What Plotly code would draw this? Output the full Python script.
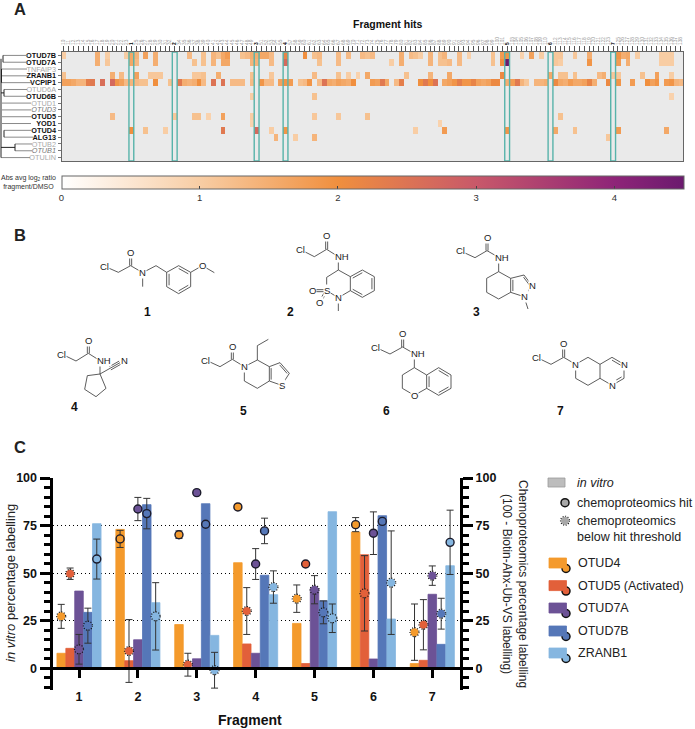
import plotly.graph_objects as go

W, H = 695, 729
FONT = "Liberation Sans"

# ---- panel A: fragment hit heatmap ----
ROWS = ["OTUD7B", "OTUD7A", "TNFAIP3", "ZRANB1", "VCPIP1", "OTUD6A", "OTUD6B", "OTUD1",
        "OTUD3", "OTUD5", "YOD1", "OTUD4", "ALG13", "OTUB2", "OTUB1", "OTULIN"]
ROW_BOLD = ["OTUD7B", "OTUD7A", "ZRANB1", "VCPIP1", "OTUD6B", "OTUD5", "YOD1", "OTUD4", "ALG13"]
ROW_ITALIC = ["OTUD3", "OTUB1"]
N_FRAGMENTS = 129
HIT_COLUMNS = [14, 23, 40, 46, 92, 101, 114]

HITS_OTUD7B = {0: 1.0, 7: 1.5, 9: 1.0, 13: 1.0, 14: 1.6, 15: 1.4, 17: 1.7, 19: 1.5, 26: 1.3, 29: 1.2,
               31: 1.4, 32: 1.2, 33: 1.6, 34: 1.8, 37: 1.2, 38: 1.3, 39: 1.5, 40: 1.5, 41: 1.6, 42: 1.6,
               43: 1.3, 46: 2.2, 50: 2.0, 52: 1.2, 53: 1.3, 57: 1.3, 59: 1.3, 62: 1.3, 63: 1.2, 64: 1.3,
               70: 1.5, 72: 1.3, 73: 1.2, 74: 1.0, 76: 1.4, 78: 1.2, 79: 1.4, 82: 1.3, 84: 0.9, 89: 1.2,
               91: 1.8, 92: 1.9, 95: 0.9, 97: 1.7, 99: 1.0, 102: 1.1, 103: 1.1, 106: 1.1, 109: 1.5,
               115: 1.9, 116: 1.5, 117: 1.6, 119: 1.0, 124: 1.0, 125: 1.0, 126: 1.0}
HITS_OTUD7A = {7: 1.5, 9: 1.1, 14: 1.6, 15: 1.3, 19: 1.5, 27: 1.2, 29: 1.2, 31: 1.4, 33: 1.6, 34: 1.6,
               39: 1.4, 40: 1.4, 43: 1.3, 46: 2.7, 53: 1.2, 57: 1.3, 68: 1.0, 70: 1.5, 76: 1.4, 78: 1.2,
               79: 1.2, 80: 1.3, 82: 1.3, 89: 1.2, 91: 2.0, 92: 4.5, 102: 1.1, 103: 1.0, 109: 1.9,
               115: 1.8, 117: 1.5, 124: 1.0, 125: 1.0, 126: 1.0}
HITS_ZRANB1 = {0: 1.2, 10: 1.5, 12: 1.3, 15: 1.7, 18: 1.1, 19: 1.1, 20: 1.1, 27: 1.1, 28: 1.1, 29: 1.2,
               32: 1.5, 39: 1.2, 43: 1.1, 52: 1.3, 57: 1.2, 59: 1.0, 61: 0.9, 63: 1.6, 71: 1.2, 76: 1.4,
               80: 1.6, 91: 2.1, 101: 1.6, 103: 1.2, 104: 1.2, 106: 1.2, 111: 1.3, 112: 1.5, 114: 1.1,
               115: 1.1, 120: 1.2, 123: 1.7, 126: 1.0}
HITS_VCPIP1 = {0: 1.7, 1: 1.7, 2: 1.6, 3: 1.4, 4: 1.4, 5: 2.3, 6: 2.4, 8: 2.6, 10: 2.7, 11: 1.9, 12: 1.7,
               13: 1.3, 14: 1.4, 15: 1.3, 16: 1.2, 17: 1.2, 19: 2.0, 22: 1.2, 24: 2.4, 25: 1.5, 26: 1.4,
               27: 1.5, 28: 2.0, 29: 1.3, 31: 2.5, 33: 2.5, 35: 1.3, 36: 1.3, 37: 1.3, 39: 1.3, 41: 1.9,
               42: 1.3, 43: 1.3, 45: 1.7, 46: 1.9, 47: 1.8, 49: 1.2, 50: 1.3, 51: 1.9, 53: 1.3, 54: 2.5,
               55: 1.6, 56: 1.5, 57: 1.7, 58: 1.6, 59: 1.5, 60: 2.0, 64: 1.8, 65: 1.7, 66: 2.4, 67: 1.6,
               69: 1.3, 70: 2.3, 74: 2.0, 75: 2.4, 76: 2.0, 77: 2.5, 79: 1.6, 80: 1.7, 81: 1.9, 82: 2.3,
               83: 1.9, 84: 1.9, 85: 2.2, 86: 1.7, 87: 1.6, 88: 1.7, 89: 2.1, 90: 2.1, 92: 1.5, 93: 1.8,
               94: 2.4, 95: 1.4, 96: 1.1, 98: 1.4, 99: 1.4, 100: 1.5, 102: 2.1, 103: 1.6, 104: 1.5,
               105: 1.8, 106: 1.6, 107: 1.6, 108: 1.7, 109: 2.2, 110: 1.5, 113: 2.1, 115: 1.9, 118: 1.8,
               121: 2.0, 122: 1.7, 123: 1.9, 125: 1.8, 126: 1.9, 127: 1.4, 128: 1.3}
HITS_OTUD6B = {39: 1.0, 52: 1.2, 126: 0.9}
HITS_OTUD5 = {10: 1.3, 23: 1.1, 27: 1.2, 28: 1.2, 30: 0.9, 33: 1.7, 39: 1.0, 52: 1.1, 57: 1.1, 63: 1.2, 103: 1.2}
HITS_YOD1 = {39: 0.9, 78: 0.9}
HITS_OTUD4 = {14: 2.0, 17: 1.2, 21: 1.0, 33: 2.4, 40: 2.7, 43: 1.0, 46: 1.9, 73: 1.0, 79: 1.8, 92: 1.9,
              102: 1.6, 106: 1.2, 115: 1.8, 125: 1.6}
HITS_ALG13 = {44: 1.4, 48: 1.0, 52: 1.4, 113: 1.1}

ROW_HITS = {"OTUD7B": HITS_OTUD7B, "OTUD7A": HITS_OTUD7A, "ZRANB1": HITS_ZRANB1, "VCPIP1": HITS_VCPIP1,
            "OTUD6B": HITS_OTUD6B, "OTUD5": HITS_OTUD5, "YOD1": HITS_YOD1, "OTUD4": HITS_OTUD4,
            "ALG13": HITS_ALG13}

HEAT_COLORS = [[0, "#FFFFFF"], [0.222, "#F8CDA4"], [0.444, "#F08F3E"], [0.667, "#C8586A"],
               [0.889, "#8E2478"], [1, "#6B1A6E"]]

# ---- panel C: bars and chemoproteomics points ----
FRAGMENTS = [1, 2, 3, 4, 5, 6, 7]
SERIES = ["OTUD4", "OTUD5 (Activated)", "OTUD7A", "OTUD7B", "ZRANB1"]
COLORS = ["#F49A2C", "#E2603A", "#6C5296", "#5577B8", "#85B6E0"]

VITRO_OTUD4 = [7.9, 73, 23, 55.5, 23.6, 71.6, 2.5]
VITRO_OTUD5 = [10.5, 4, 0.4, 12.8, 2.5, 59.7, 4.2]
VITRO_OTUD7A = [40.6, 15, 5, 7.9, 41.9, 4.9, 38.9]
VITRO_OTUD7B = [29.4, 86, 86.5, 48.9, 35.5, 80.2, 12.6]
VITRO_ZRANB1 = [76, 34.5, 17.3, 38.7, 82.3, 25.9, 53.9]

CHEMO_OTUD4 = [27.3, 68, 70.2, 84.8, 36.6, 75.5, 19]
CHEMO_OTUD5 = [49.7, 9.1, 1.9, 30.1, 54.8, 39.4, 22.9]
CHEMO_OTUD7A = [10, 83.7, 92.3, 54.8, 41.3, 71, 48.7]
CHEMO_OTUD7B = [22.4, 81.3, 75.7, 72.2, 29.4, 77.2, 28.7]
CHEMO_ZRANB1 = [57.4, 27.3, -1, 42.7, 26.3, 45, 66.2]

ERR_OTUD4 = [6.3, 4.5, 2, 0, 7.2, 3.7, 14.8]
ERR_OTUD5 = [3, 16.5, 6, 12.3, 0, 19.8, 13.2]
ERR_OTUD7A = [7.8, 6.1, 0, 8.1, 7.4, 11.2, 5.1]
ERR_OTUD7B = [9.2, 8, 0, 6.7, 6, 0, 8.1]
ERR_ZRANB1 = [10.5, 17.7, 9.4, 8.5, 7.5, 27.2, 16.9]

HIT_OTUD4 = [0, 1, 1, 1, 0, 1, 0]
HIT_OTUD5 = [0, 0, 0, 0, 1, 0, 0]
HIT_OTUD7A = [0, 1, 1, 1, 0, 1, 0]
HIT_OTUD7B = [0, 1, 1, 1, 0, 1, 0]
HIT_ZRANB1 = [1, 0, 0, 0, 0, 0, 1]

VITRO = [VITRO_OTUD4, VITRO_OTUD5, VITRO_OTUD7A, VITRO_OTUD7B, VITRO_ZRANB1]
CHEMO = [CHEMO_OTUD4, CHEMO_OTUD5, CHEMO_OTUD7A, CHEMO_OTUD7B, CHEMO_ZRANB1]
ERRS = [ERR_OTUD4, ERR_OTUD5, ERR_OTUD7A, ERR_OTUD7B, ERR_ZRANB1]
HITS = [HIT_OTUD4, HIT_OTUD5, HIT_OTUD7A, HIT_OTUD7B, HIT_ZRANB1]

# page pixels of the main boxes
HEAT_L, HEAT_R, HEAT_T, HEAT_B = 61.5, 683, 52, 161
BAR_L, BAR_R, BAR_T, BAR_B = 52.5, 460, 478, 690.2
ZERO_PX = 668.3
GROUP_STEP = 0.151


def px_x(p):
    return p / W


def px_y(p):
    return 1 - p / H


fig = go.Figure()

# heatmap
z = []
for name in ROWS:
    row = ROW_HITS.get(name, {})
    z.append([row.get(c) for c in range(N_FRAGMENTS)])

fig.add_trace(go.Heatmap(
    z=z, x=list(range(N_FRAGMENTS)), y=list(range(len(ROWS))),
    zmin=0, zmax=4.5, colorscale=HEAT_COLORS, hoverongaps=False,
    colorbar=dict(orientation="h", x=px_x(HEAT_L), xanchor="left", y=px_y(176), yanchor="top",
                  lenmode="pixels", len=HEAT_R - HEAT_L, thickness=13, thicknessmode="pixels",
                  xpad=0, ypad=0, outlinecolor="#666", outlinewidth=1,
                  tickvals=[0, 1, 2, 3, 4], ticks="inside", ticklen=3, tickcolor="#444",
                  tickfont=dict(family=FONT, size=9.5, color="#333")),
    xaxis="x", yaxis="y",
))

# bars, left axis
for i, name in enumerate(SERIES):
    fig.add_trace(go.Bar(
        x=FRAGMENTS, y=VITRO[i], name=name, marker=dict(color=COLORS[i], line=dict(color=COLORS[i], width=0.8)),
        xaxis="x2", yaxis="y2", showlegend=False,
    ))

# chemoproteomics points, right axis
point_shapes = []
for i, name in enumerate(SERIES):
    xs = [f + (i - 2) * GROUP_STEP for f in FRAGMENTS]
    fig.add_trace(go.Scatter(
        x=xs, y=CHEMO[i], mode="markers", showlegend=False, xaxis="x2", yaxis="y3",
        error_y=dict(type="data", array=ERRS[i], color="#333", thickness=1, width=3.5),
        marker=dict(size=8, color=COLORS[i],
                    line=dict(color="#1c1c2c", width=[1.4 if h else 0 for h in HITS[i]])),
    ))
    for x, y, h in zip(xs, CHEMO[i], HITS[i]):
        if not h:
            point_shapes.append(dict(
                type="circle", xref="x2", yref="y3", xsizemode="pixel", ysizemode="pixel",
                xanchor=x, yanchor=y, x0=-4.5, x1=4.5, y0=-4.5, y1=4.5,
                line=dict(color="#111", width=1.2, dash="1px,1.6px"), layer="above",
            ))

# ---- full page pixel overlay: dendrogram, molecules, legend ----
# dendrogram stems: (row, x start, x end)
row_y = lambda r: HEAT_T + (HEAT_B - HEAT_T) * (r + 0.5) / len(ROWS)
LEAF_STEMS = [(0, 3, 27), (1, 3, 27), (2, 1.5, 27), (3, 1.5, 28), (4, 1.5, 31), (5, 4, 27), (6, 4, 27),
              (7, 2, 31), (8, 2, 31), (9, 2, 31), (10, 2, 31), (11, 4, 31), (12, 4, 33),
              (13, 15, 32), (14, 15, 32), (15, 1, 30)]
JOINS = [(0, 1, 3), (2, 4, 1.5), (5, 6, 4), (11, 12, 4), (13, 14, 15), (0.5, 15, 1)]
stem_x, stem_y = [], []
for r, x0, x1 in LEAF_STEMS:
    stem_x += [x0, x1, None]
    stem_y += [row_y(r), row_y(r), None]
join_x, join_y = [], []
for a, b, x in JOINS:
    join_x += [x, x, None]
    join_y += [row_y(a), row_y(b), None]
join_x += [4, 1, None, 15, 1, None]
join_y += [row_y(5.5), row_y(5.5), None, row_y(13.5), row_y(13.5), None]
fig.add_trace(go.Scatter(x=stem_x, y=stem_y, mode="lines", line=dict(color="#8a8a8a", width=1),
                         xaxis="x4", yaxis="y4", showlegend=False))
fig.add_trace(go.Scatter(x=join_x, y=join_y, mode="lines", line=dict(color="#222", width=1),
                         xaxis="x4", yaxis="y4", showlegend=False))

# molecules, traced in 3x crop coordinates with an origin offset
MOLECULES = [
    dict(o=(0, 200),
         single=[[(355, 217), (392, 197), (428, 218), (468, 197), (500, 217)], [(355, 217), (312, 198)],
                 [(428, 218), (428, 260)], [(572, 217), (607, 197), (643, 218)],
                 [(500, 217), (536, 197), (572, 217), (572, 260), (536, 281), (500, 260), (500, 217)]],
         double=[((392, 197), (392, 158))],
         inner=[((536, 197), (572, 217), (536, 239)), ((572, 260), (536, 281), (536, 239)), ((500, 260), (500, 217), (536, 239))],
         atoms=[("Cl", 312, 198), ("O", 392, 158), ("N", 428, 218), ("O", 607, 197)], label=("1", 441, 335)),
    dict(o=(0, 200),
         single=[[(900, 148), (943, 170), (980, 148), (1015, 170), (1015, 210), (980, 232), (980, 272), (1015, 293), (1015, 333)],
                 [(1015, 293), (1051, 272)], [(1015, 210), (1051, 230)],
                 [(1051, 230), (1087, 210), (1123, 230), (1123, 272), (1087, 292), (1051, 272), (1051, 230)]],
         double=[((980, 148), (980, 106)), ((980, 272), (938, 272)), ((980, 272), (958, 308))],
         inner=[((1051, 230), (1087, 210), (1087, 251)), ((1123, 230), (1123, 272), (1087, 251)), ((1087, 292), (1051, 272), (1087, 251))],
         atoms=[("Cl", 900, 148), ("O", 980, 106), ("NH", 1027, 168), ("S", 980, 272), ("O", 938, 272), ("O", 958, 308), ("N", 1015, 293)],
         label=("2", 870, 335)),
    dict(o=(345, 200),
         single=[[(345, 152), (390, 173), (426, 152), (461, 172), (461, 215), (425, 235), (425, 277), (461, 297), (497, 277), (497, 235), (461, 215)],
                 [(497, 235), (537, 225), (561, 257), (537, 290), (497, 277)], [(537, 290), (549, 327)]],
         double=[((426, 152), (426, 111))],
         inner=[((497, 235), (497, 277), (530, 257)), ((537, 225), (561, 257), (530, 257))],
         atoms=[("Cl", 345, 152), ("O", 426, 111), ("NH", 472, 172), ("N", 561, 257), ("N", 537, 290)], label=("3", 394, 335)),
    dict(o=(0, 200),
         single=[[(185, 462), (228, 483), (265, 460), (300, 482), (300, 522)],
                 [(300, 522), (318, 565), (288, 590), (254, 568), (262, 527), (300, 522)]],
         double=[((265, 460), (265, 420))],
         triple=[((300, 522), (360, 488))],
         inner=[],
         atoms=[("Cl", 185, 462), ("O", 265, 420), ("NH", 311, 482), ("N", 372, 482)], label=("4", 224, 620)),
    dict(o=(0, 200),
         single=[[(617, 480), (660, 500), (697, 478), (733, 500), (772, 480), (808, 500), (808, 543), (772, 565), (733, 543), (733, 500)],
                 [(772, 480), (772, 437), (805, 418)], [(808, 500), (840, 488), (868, 520), (845, 556), (808, 543)]],
         double=[((697, 478), (697, 438))],
         inner=[((808, 500), (808, 543), (835, 522)), ((840, 488), (868, 520), (835, 522))],
         atoms=[("Cl", 617, 480), ("O", 697, 438), ("N", 733, 500), ("S", 845, 556)], label=("5", 730, 632)),
    dict(o=(345, 200),
         single=[[(92, 442), (135, 462), (173, 441), (208, 461), (208, 503), (172, 525), (172, 565), (208, 586), (245, 565), (245, 525), (208, 503)],
                 [(245, 525), (281, 503), (318, 525), (318, 565), (281, 586), (245, 565)]],
         double=[((173, 441), (173, 400))],
         inner=[((281, 503), (318, 525), (281, 545)), ((318, 565), (281, 586), (281, 545)), ((245, 565), (245, 525), (281, 545))],
         atoms=[("Cl", 92, 442), ("O", 173, 400), ("NH", 220, 461), ("O", 208, 586)], label=("6", 125, 632)),
    dict(o=(345, 200),
         single=[[(575, 472), (618, 493), (656, 472), (692, 493), (729, 472), (765, 493), (765, 535), (729, 556), (692, 535), (692, 493)],
                 [(765, 493), (801, 472), (837, 493), (837, 535), (801, 556), (765, 535)]],
         double=[((656, 472), (656, 431))],
         inner=[((801, 472), (837, 493), (801, 514)), ((837, 535), (801, 556), (801, 514))],
         atoms=[("Cl", 575, 472), ("O", 656, 431), ("N", 692, 493), ("N", 837, 493), ("N", 801, 556)], label=("7", 647, 632)),
]


def offset_segment(p, q, d):
    dx, dy = q[0] - p[0], q[1] - p[1]
    n = (dx * dx + dy * dy) ** 0.5
    ox, oy = -dy / n * d, dx / n * d
    return (p[0] + ox, p[1] + oy), (q[0] + ox, q[1] + oy)


annotations = []


def note(text, x, y, size=9.5, color="#222", bold=False, **kw):
    annotations.append(dict(text=f"<b>{text}</b>" if bold else text, x=x, y=y, xref="x4", yref="y4",
                            showarrow=False, font=dict(family=FONT, size=size, color=color), **kw))


bx, by = [], []
for m in MOLECULES:
    ox, oy = m["o"]
    conv = lambda p: (ox + p[0] / 3, oy + p[1] / 3)
    for chain in m["single"]:
        for p in chain:
            c = conv(p)
            bx.append(c[0])
            by.append(c[1])
        bx.append(None)
        by.append(None)
    for p, q in m["double"]:
        pc, qc = conv(p), conv(q)
        for d in (-1, 1):
            a, b = offset_segment(pc, qc, d)
            bx += [a[0], b[0], None]
            by += [a[1], b[1], None]
    for p, q, center in m["inner"]:
        # second stroke of a ring double bond, pulled toward the ring centre
        pc, qc, cc = conv(p), conv(q), conv(center)
        a = (pc[0] + (cc[0] - pc[0]) * 0.2, pc[1] + (cc[1] - pc[1]) * 0.2)
        b = (qc[0] + (cc[0] - qc[0]) * 0.2, qc[1] + (cc[1] - qc[1]) * 0.2)
        bx += [a[0], b[0], None]
        by += [a[1], b[1], None]
    for p, q in m.get("triple", []):
        pc, qc = conv(p), conv(q)
        bx += [pc[0], qc[0], None]
        by += [pc[1], qc[1], None]
        mid = ((pc[0] + qc[0]) / 2, (pc[1] + qc[1]) / 2)
        for d in (-1.8, 1.8):
            a, b = offset_segment(mid, qc, d)
            bx += [a[0], b[0], None]
            by += [a[1], b[1], None]
    for text, x, y in m["atoms"]:
        cx, cy = conv((x, y))
        note(text, cx, cy, size=9.5, bgcolor="white", borderpad=0)
    text, x, y = m["label"]
    cx, cy = conv((x, y))
    note(text, cx, cy, size=12, color="#111", bold=True)

fig.add_trace(go.Scatter(x=bx, y=by, mode="lines", line=dict(color="#333", width=0.8),
                         xaxis="x4", yaxis="y4", showlegend=False))

# panel letters and titles
note("A", 19.5, 8.5, size=16.5, bold=True)
note("B", 19.5, 235, size=16.5, bold=True)
note("C", 19.5, 447, size=16.5, bold=True)
note("Fragment hits", 388, 24, size=10.5, color="#111", bold=True)
note("Abs avg log<sub>2</sub> ratio<br>fragment/DMSO", 28, 182, size=7, color="#333")
note("<b>Fragment</b>", 250, 720, size=14, color="#111")
note("<i>in vitro</i> percentage labelling", 10, 583, size=13, color="#222", textangle=-90)
note("Chemoproteomics percentage labelling<br>(100 - Biotin-Ahx-Ub-VS labelling)", 515, 584, size=12,
     color="#222", textangle=90)

# legend
LEGEND_Y = [563, 585.6, 608, 631, 653]
legend_shapes = []
for color, y in zip(COLORS, LEGEND_Y):
    legend_shapes.append(dict(type="rect", xref="x4", yref="y4", x0=549, x1=566.5, y0=y - 5, y1=y + 5,
                              fillcolor=color, line=dict(color=color, width=0.8)))
fig.add_trace(go.Scatter(
    x=[566] * len(COLORS), y=[y + 5.5 for y in LEGEND_Y], mode="markers", showlegend=False,
    marker=dict(size=8, color=COLORS, line=dict(color="#111", width=1.5)), xaxis="x4", yaxis="y4",
))
for name, y in zip(SERIES, LEGEND_Y):
    note(name, 576, y, size=12.5, xanchor="left")
legend_shapes.append(dict(type="rect", xref="x4", yref="y4", x0=548, x1=565, y0=478, y1=487,
                          fillcolor="#BDBDBD", line=dict(color="#999", width=0.8)))
fig.add_trace(go.Scatter(x=[565, 565], y=[502.7, 520.7], mode="markers", showlegend=False,
                         marker=dict(size=8, color="#A8A8A8", line=dict(color="#111", width=[1.5, 0])),
                         xaxis="x4", yaxis="y4"))
legend_shapes.append(dict(type="circle", xref="x4", yref="y4", x0=560.5, x1=569.5, y0=516.2, y1=525.2,
                          line=dict(color="#111", width=1.1, dash="1px,1.6px")))
note("<i>in vitro</i>", 575, 482.5, size=12.5, xanchor="left")
note("chemoproteomics hit", 575, 503, size=12.5, xanchor="left")
note("chemoproteomics", 575, 521, size=12.5, xanchor="left")
note("below hit threshold", 575, 536.5, size=12.5, xanchor="left")

# grey field behind the heatmap and teal outlines of the seven hits
shapes = [dict(type="rect", xref="paper", yref="paper", x0=px_x(HEAT_L), x1=px_x(HEAT_R), y0=px_y(HEAT_B), y1=px_y(HEAT_T),
               fillcolor="#EAEAEA", line=dict(width=0), layer="below")]
for c in HIT_COLUMNS:
    shapes.append(dict(type="rect", xref="x", yref="y", x0=c - 0.5, x1=c + 0.5, y0=-0.5, y1=len(ROWS) - 0.5,
                       line=dict(color="#57B3AA", width=1.4), layer="above"))

# row labels carry their own grey / bold / italic styling
row_ticks = []
for name in ROWS:
    if name in ROW_BOLD:
        row_ticks.append(f'<span style="color:#111"><b>{name}</b></span>')
    elif name in ROW_ITALIC:
        row_ticks.append(f'<span style="color:#777"><i>{name}</i></span>')
    else:
        row_ticks.append(f'<span style="color:#aaa">{name}</span>')

# fragment ids along the top are too small to read; the seven hits are numbered in black
fragment_ticks = [str(10 + c) for c in range(N_FRAGMENTS)]
for num, c in enumerate(HIT_COLUMNS, start=1):
    fragment_ticks[c] = f'<span style="color:#000"><b>{num}</b></span>'

y_common = dict(range=[-11.5, 100], domain=[px_y(BAR_B), px_y(BAR_T)], tick0=0, dtick=25,
                showline=True, linecolor="#000", linewidth=3, ticks="outside", ticklen=10, tickwidth=3,
                tickcolor="#000", tickfont=dict(family=FONT, size=12.5, color="#111", weight="bold"),
                minor=dict(dtick=5, ticks="outside", ticklen=6, tickwidth=2.5, tickcolor="#000", showgrid=False),
                zeroline=False, fixedrange=True)

fig.update_layout(
    width=W, height=H, margin=dict(l=0, r=0, t=0, b=0, autoexpand=False), paper_bgcolor="white", plot_bgcolor="rgba(0,0,0,0)",
    font=dict(family=FONT), showlegend=False, barmode="group", bargap=0.245, bargroupgap=0.04,
    shapes=shapes + point_shapes + legend_shapes, annotations=annotations,
    xaxis=dict(domain=[px_x(HEAT_L), px_x(HEAT_R)], range=[-0.5, N_FRAGMENTS - 0.5], side="top", anchor="y",
               tickmode="array", tickvals=list(range(N_FRAGMENTS)), ticktext=fragment_ticks, tickangle=-90,
               tickfont=dict(family=FONT, size=4.8, color="#999"), ticks="outside", ticklen=5, tickwidth=0.8,
               tickcolor="#555", showgrid=False, zeroline=False, showline=True, mirror=True,
               linecolor="#666", linewidth=1, fixedrange=True),
    yaxis=dict(domain=[px_y(HEAT_B), px_y(HEAT_T)], range=[len(ROWS) - 0.5, -0.5], anchor="x",
               tickmode="array", tickvals=list(range(len(ROWS))), ticktext=row_ticks,
               tickfont=dict(family=FONT, size=7.3), ticks="outside", ticklen=3, tickwidth=0.8, tickcolor="#777",
               showgrid=False, zeroline=False, showline=True, mirror=True, linecolor="#666", linewidth=1,
               fixedrange=True),
    xaxis2=dict(domain=[px_x(BAR_L), px_x(BAR_R)], range=[1 - 26.5 / 58.88, 7 + 27.7 / 58.88], anchor="free",
                position=px_y(ZERO_PX), tickmode="array", tickvals=FRAGMENTS, ticks="outside", ticklen=8, tickwidth=3,
                tickcolor="#000", showline=True, linecolor="#000", linewidth=3, showgrid=False, zeroline=False,
                tickfont=dict(family=FONT, size=12.5, color="#111", weight="bold"), ticklabelstandoff=8,
                fixedrange=True),
    yaxis2=dict(anchor="x2", side="left", showgrid=True, gridcolor="#000", gridwidth=1.2, griddash="1.5px,2.5px", **y_common),
    yaxis3=dict(anchor="x2", side="right", overlaying="y2", showgrid=False, **y_common),
    xaxis4=dict(domain=[0, 1], range=[0, W], visible=False, anchor="y4", fixedrange=True),
    yaxis4=dict(domain=[0, 1], range=[H, 0], visible=False, anchor="x4", fixedrange=True),
)

fig.write_html("out.html", config={"displayModeBar": False}, post_script="document.body.style.margin='0';")
